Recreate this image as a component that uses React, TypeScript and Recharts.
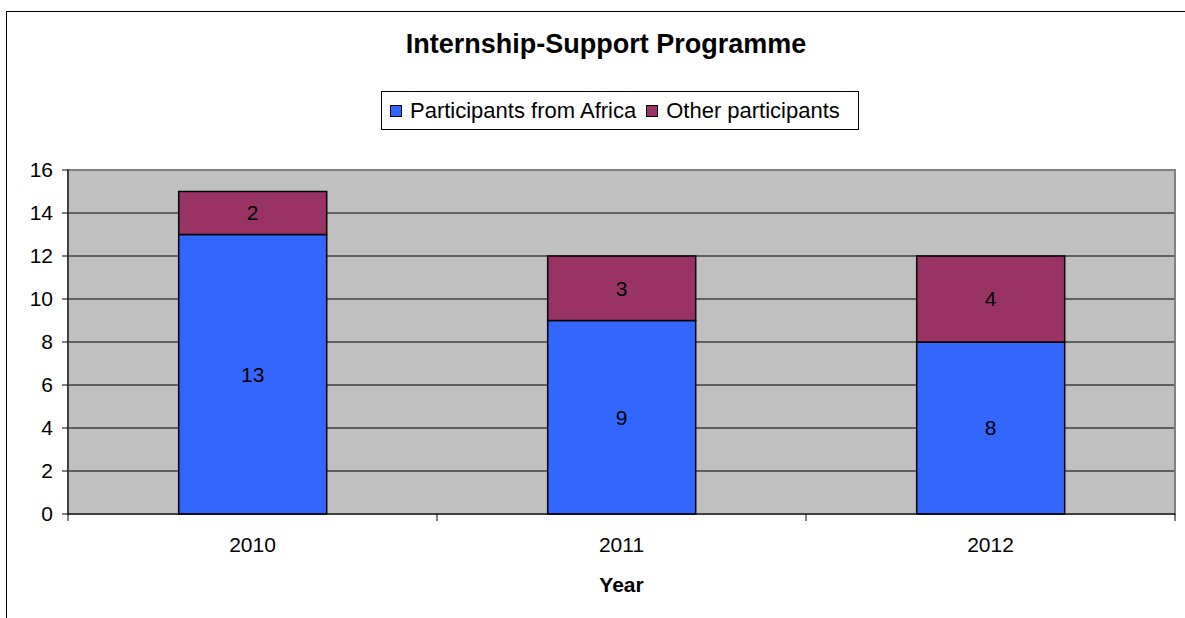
import React from 'react';
import { BarChart, Bar, XAxis, YAxis, CartesianGrid, Legend, LabelList, ReferenceArea } from 'recharts';

const categories = ['2010', '2011', '2012'];
const africaValues = [13, 9, 8];
const otherValues = [2, 3, 4];
const yTicks = [0, 2, 4, 6, 8, 10, 12, 14, 16];
const seriesNames = ['Participants from Africa', 'Other participants'];
const titleText = 'Internship-Support Programme';
const xLabelText = 'Year';

const data = categories.map((c, i) => ({ year: c, africa: africaValues[i], other: otherValues[i] }));

const CHART_W = 1185;
const CHART_H = 618;
const MARGIN = { top: 170, right: 10, bottom: 0, left: 8 };
const Y_AXIS_W = 60;
const X_AXIS_H = 104;
const TICK_SIZE = 6;
const X_TICK_MARGIN = 17;
const FONT = "'Liberation Sans', Arial, sans-serif";
const BLUE = '#3366FF';
const MAROON = '#993366';

const PLOT_LEFT = MARGIN.left + Y_AXIS_W;
const PLOT_RIGHT = CHART_W - MARGIN.right;
const BAND = (PLOT_RIGHT - PLOT_LEFT) / categories.length;

function XTick(props: any) {
  const { x, y, payload, index } = props;
  const axisY = y - TICK_SIZE - X_TICK_MARGIN;
  const left = x - BAND / 2;
  const right = x + BAND / 2;
  return (
    <g>
      <line x1={left} x2={left} y1={axisY} y2={axisY + TICK_SIZE + 1} stroke="#000" />
      {index === categories.length - 1 && (
        <line x1={right} x2={right} y1={axisY} y2={axisY + TICK_SIZE + 1} stroke="#000" />
      )}
      <text x={x} y={y} dy="0.71em" textAnchor="middle" fontSize={21} fill="#000">
        {payload.value}
      </text>
    </g>
  );
}

function LegendBox() {
  const items = [
    { name: seriesNames[0], color: BLUE },
    { name: seriesNames[1], color: MAROON },
  ];
  return (
    <div
      style={{
        boxSizing: 'border-box',
        width: '100%',
        height: '100%',
        border: '1px solid #000',
        background: '#fff',
        display: 'flex',
        alignItems: 'center',
        paddingLeft: 8,
        fontFamily: FONT,
        fontSize: 22,
        color: '#000',
        whiteSpace: 'nowrap',
      }}
    >
      {items.map((it, i) => (
        <span key={it.name} style={{ display: 'flex', alignItems: 'center', marginLeft: i === 0 ? 0 : 10 }}>
          <span
            style={{
              display: 'inline-block',
              boxSizing: 'border-box',
              width: 12,
              height: 12,
              background: it.color,
              border: '1px solid #000',
              marginRight: 8,
            }}
          />
          <span>{it.name}</span>
        </span>
      ))}
    </div>
  );
}

export default function App() {
  return (
    <div
      style={{
        position: 'absolute',
        left: 0,
        top: 0,
        width: CHART_W,
        height: CHART_H,
        overflow: 'hidden',
        background: '#fff',
        fontFamily: FONT,
      }}
    >
      <div
        style={{
          position: 'absolute',
          left: 6,
          top: 11,
          width: 1300,
          height: 800,
          border: '1px solid #000',
        }}
      />
      <div
        style={{
          position: 'absolute',
          left: 6,
          top: 31,
          width: 1200,
          textAlign: 'center',
          fontSize: 27,
          lineHeight: '27px',
          fontWeight: 'bold',
          color: '#000',
          whiteSpace: 'nowrap',
        }}
      >
        {titleText}
      </div>
      <div style={{ position: 'absolute', left: 0, top: 0 }}>
        <BarChart width={CHART_W} height={CHART_H} data={data} margin={MARGIN} barCategoryGap="30%">
          <CartesianGrid vertical={false} stroke="#000" fill="#C0C0C0" fillOpacity={1} />
          <ReferenceArea y1={0} y2={16} fill="none" stroke="#808080" strokeWidth={2} ifOverflow="visible" />
          <XAxis
            dataKey="year"
            height={X_AXIS_H}
            axisLine={{ stroke: '#000' }}
            tickLine={false}
            tickSize={TICK_SIZE}
            tickMargin={X_TICK_MARGIN}
            tick={<XTick />}
            interval={0}
            label={{
              value: xLabelText,
              position: 'insideBottom',
              offset: 26,
              fontSize: 21,
              fontWeight: 'bold',
              fill: '#000',
            }}
          />
          <YAxis
            width={Y_AXIS_W}
            domain={[0, 16]}
            ticks={yTicks}
            interval={0}
            axisLine={{ stroke: '#000' }}
            tickLine={{ stroke: '#000' }}
            tickSize={TICK_SIZE}
            tickMargin={9}
            tick={{ fontSize: 21, fill: '#000' }}
          />
          <Legend
            layout="horizontal"
            verticalAlign="middle"
            align="center"
            content={<LegendBox />}
            wrapperStyle={{ position: 'absolute', top: 91, left: 381, width: 478, height: 39 }}
          />
          <Bar dataKey="africa" name={seriesNames[0]} stackId="a" fill={BLUE} stroke="#000" strokeWidth={1.5} isAnimationActive={false}>
            <LabelList dataKey="africa" position="center" fill="#000" fontSize={21} />
          </Bar>
          <Bar dataKey="other" name={seriesNames[1]} stackId="a" fill={MAROON} stroke="#000" strokeWidth={1.5} isAnimationActive={false}>
            <LabelList dataKey="other" position="center" fill="#000" fontSize={21} />
          </Bar>
        </BarChart>
      </div>
    </div>
  );
}
